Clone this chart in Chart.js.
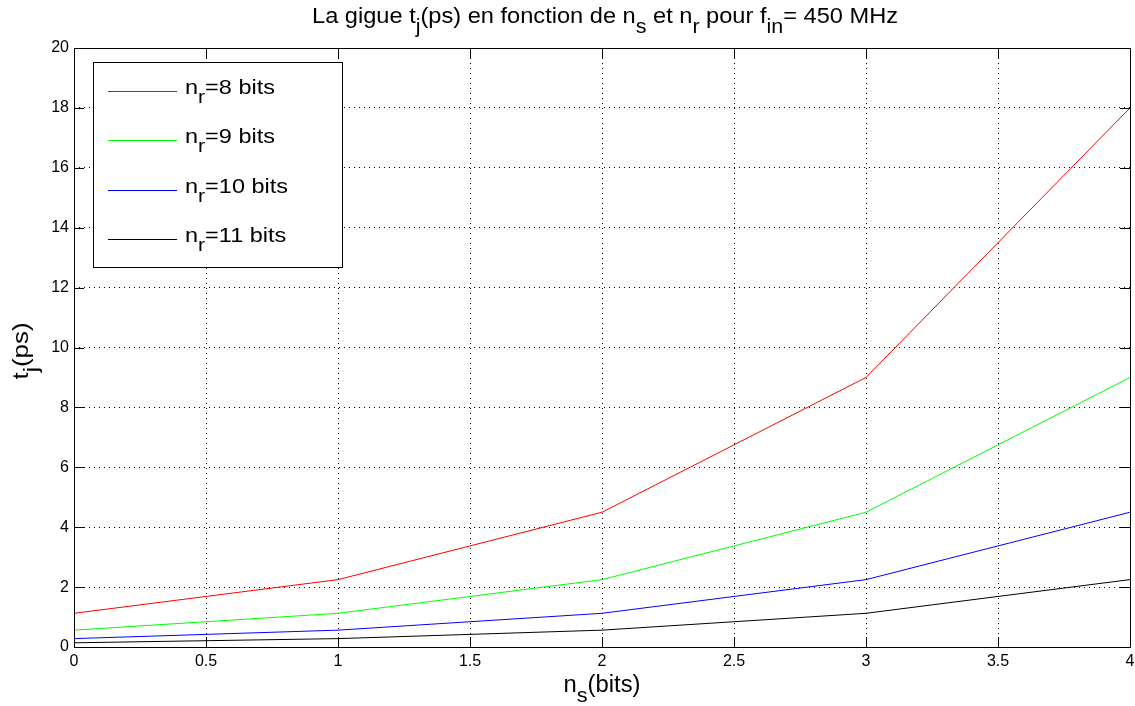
<!DOCTYPE html>
<html>
<head>
<meta charset="utf-8">
<script src="https://cdn.jsdelivr.net/npm/chart.js@4"></script>
<style>
  body { margin: 0; background: #fff; }
  #wrap { width: 1135px; height: 706px; }
</style>
</head>
<body>
<div id="wrap"><canvas id="gigue"></canvas></div>
<script>
// data
const nsBits = [0, 1, 2, 3, 4];
const nr8 = [1.125, 2.25, 4.5, 9, 18];
const nr9 = [0.5625, 1.125, 2.25, 4.5, 9];
const nr10 = [0.28, 0.5625, 1.125, 2.25, 4.5];
const nr11 = [0.14, 0.28, 0.5625, 1.125, 2.25];
const seriesLabels = ['8', '9', '10', '11'];
const seriesColors = ['#ff0000', '#00ff00', '#0000ff', '#000000'];

const FONT = 'Liberation Sans, Arial, sans-serif';

function pts(vals) {
  return vals.map((v, i) => ({ x: nsBits[i], y: v }));
}

// width of a run of text with subscripts, unscaled
function richWidth(ctx, parts, size) {
  let total = 0;
  parts.forEach(p => {
    ctx.font = (p[1] ? Math.round(size * 0.9) : size) + 'px ' + FONT;
    total += ctx.measureText(p[0]).width;
  });
  return total;
}

// draw text with subscripts, stretched horizontally by sx
function richText(ctx, parts, x, y, size, align, sx) {
  const total = richWidth(ctx, parts, size) * sx;
  ctx.save();
  ctx.translate(align === 'center' ? x - total / 2 : x, y);
  ctx.scale(sx, 1);
  ctx.textAlign = 'left';
  ctx.textBaseline = 'alphabetic';
  let cx = 0;
  parts.forEach(p => {
    ctx.font = (p[1] ? Math.round(size * 0.9) : size) + 'px ' + FONT;
    ctx.fillText(p[0], cx, p[1] ? size * 0.45 : 0);
    cx += ctx.measureText(p[0]).width;
  });
  ctx.restore();
}

function fitText(ctx, parts, x, y, size, align, width) {
  richText(ctx, parts, x, y, size, align, width / richWidth(ctx, parts, size));
}

const matlabLook = {
  id: 'matlabLook',
  afterDraw(chart) {
    const ctx = chart.ctx;
    const a = chart.chartArea;
    const xs = chart.scales.x, ys = chart.scales.y;
    ctx.save();
    ctx.strokeStyle = '#000';
    ctx.lineWidth = 1;
    // inward ticks on all four sides
    ctx.beginPath();
    xs.ticks.forEach(t => {
      const px = Math.round(xs.getPixelForValue(t.value)) + 0.5;
      ctx.moveTo(px, a.bottom); ctx.lineTo(px, a.bottom - 10);
      ctx.moveTo(px, a.top); ctx.lineTo(px, a.top + 10);
    });
    ys.ticks.forEach(t => {
      const py = Math.round(ys.getPixelForValue(t.value)) + 0.5;
      ctx.moveTo(a.left, py); ctx.lineTo(a.left + 10, py);
      ctx.moveTo(a.right, py); ctx.lineTo(a.right - 10, py);
    });
    ctx.stroke();
    ctx.strokeRect(Math.round(a.left) + 0.5, Math.round(a.top) + 0.5,
      Math.round(a.right - a.left), Math.round(a.bottom - a.top));

    // title and axis labels
    ctx.fillStyle = '#000';
    fitText(ctx, [['La gigue t', 0], ['j', 1], ['(ps) en fonction de n', 0], ['s', 1],
      [' et n', 0], ['r', 1], [' pour f', 0], ['in', 1], ['= 450 MHz', 0]], 605, 23, 22, 'center', 586);
    fitText(ctx, [['n', 0], ['s', 1], ['(bits)', 0]], 602, 692, 23, 'center', 77);
    ctx.save();
    ctx.translate(28, 351);
    ctx.rotate(-Math.PI / 2);
    fitText(ctx, [['t', 0], ['j', 1], ['(ps)', 0]], 0, 0, 22, 'center', 57);
    ctx.restore();

    // legend box
    const lx = 93, ly = 62, lw = 249, lh = 205;
    ctx.fillStyle = '#fff';
    ctx.fillRect(lx, ly, lw, lh);
    ctx.strokeStyle = '#000';
    ctx.strokeRect(lx + 0.5, ly + 0.5, lw, lh);
    const first = [['n', 0], ['r', 1], ['=8 bits', 0]];
    const sx = 90 / richWidth(ctx, first, 20);
    seriesLabels.forEach((lab, i) => {
      const y = 91 + i * 49.3;
      ctx.strokeStyle = seriesColors[i];
      ctx.beginPath();
      ctx.moveTo(108, Math.round(y) + 0.5);
      ctx.lineTo(177, Math.round(y) + 0.5);
      ctx.stroke();
      ctx.fillStyle = '#000';
      richText(ctx, [['n', 0], ['r', 1], ['=' + lab + ' bits', 0]], 185, y + 3, 20, 'left', sx);
    });
    ctx.restore();
  }
};

function ds(vals, i) {
  return {
    label: 'nr=' + seriesLabels[i] + ' bits',
    data: pts(vals),
    borderColor: seriesColors[i],
    backgroundColor: seriesColors[i],
    borderWidth: 1,
    pointRadius: 0,
    tension: 0
  };
}

const gridStyle = {
  color: '#000',
  lineWidth: 1,
  drawTicks: false
};

new Chart(document.getElementById('gigue'), {
  type: 'line',
  data: {
    datasets: [ds(nr8, 0), ds(nr9, 1), ds(nr10, 2), ds(nr11, 3)]
  },
  options: {
    responsive: true,
    maintainAspectRatio: false,
    animation: false,
    layout: { padding: { top: 48, right: 5, left: 0, bottom: 0 } },
    plugins: {
      legend: { display: false },
      tooltip: { enabled: false }
    },
    scales: {
      x: {
        type: 'linear',
        min: 0, max: 4,
        ticks: { stepSize: 0.5, color: '#000', padding: 5, maxRotation: 0,
          callback: v => String(v),
          font: { family: FONT, size: 16 } },
        grid: gridStyle,
        border: { display: false, dash: [1, 4] },
        afterFit(s) { s.height = 59; s.paddingRight = 0; s.paddingLeft = 0; }
      },
      y: {
        min: 0, max: 20,
        ticks: { stepSize: 2, color: '#000', padding: 5,
          font: { family: FONT, size: 16 } },
        grid: gridStyle,
        border: { display: false, dash: [1, 4] },
        afterFit(s) { s.width = 74; }
      }
    }
  },
  plugins: [matlabLook]
});
</script>
</body>
</html>
